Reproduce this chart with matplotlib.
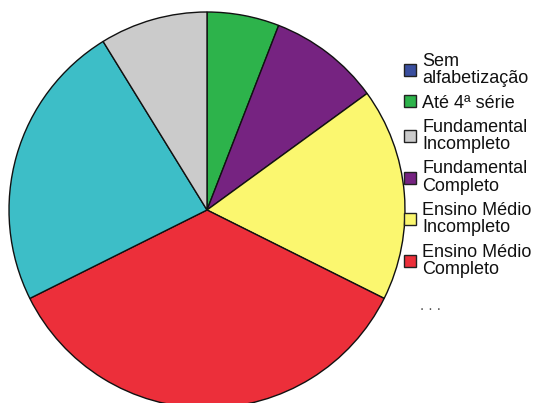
import matplotlib.pyplot as plt
from matplotlib.patches import Rectangle

plt.rcParams['font.family'] = ['Liberation Sans', 'DejaVu Sans']

# categories in clockwise order from 12 o'clock
categories = ["Sem\nalfabetização", "Até 4ª série", "Fundamental\nCompleto",
              "Ensino Médio\nIncompleto", "Ensino Médio\nCompleto", "Superior",
              "Fundamental\nIncompleto"]
shares = [0.0, 5.9, 9.1, 17.4, 35.3, 23.6, 8.8]
colors = ["#3a4f9f", "#2db34b", "#762381", "#fbf76f", "#ec2f3a", "#3dbec7", "#cbcbcb"]
legend_order = [0, 1, 6, 2, 3, 4]

W, H = 536, 403
fig = plt.figure(figsize=(W / 100, H / 100), dpi=100)
fig.patch.set_facecolor("white")

cx, cy, r = 207, 403 - 210, 198
ax = fig.add_axes([(cx - r) / W, (cy - r) / H, 2 * r / W, 2 * r / H])
wedges, _ = ax.pie(shares, colors=colors, startangle=90, counterclock=False,
                   wedgeprops=dict(edgecolor="#111111", linewidth=1.0))
for w in wedges:
    w.set_clip_on(False)
ax.set_xlim(-1, 1)
ax.set_ylim(-1, 1)
ax.set_aspect("auto")
ax.axis("off")

# legend
handles = [Rectangle((0, 0), 1, 1, facecolor=colors[i], edgecolor="#222222", linewidth=1.0)
           for i in legend_order]
labels = [categories[i] for i in legend_order]
leg = fig.legend(handles, labels, loc="upper left", bbox_to_anchor=(404 / W, 1 - 53 / H),
                 frameon=False, fontsize=13, handlelength=0.64, handleheight=0.64,
                 handletextpad=0.38, labelspacing=0.41, borderpad=0, borderaxespad=0)
for t in leg.get_texts():
    t.set_linespacing(1.01)
    t.set_color("#111111")

fig.text(420 / W, 1 - 310 / H, ". . .", fontsize=11, color="#555555", ha="left", va="baseline")

fig.savefig("out.png", dpi=100)
